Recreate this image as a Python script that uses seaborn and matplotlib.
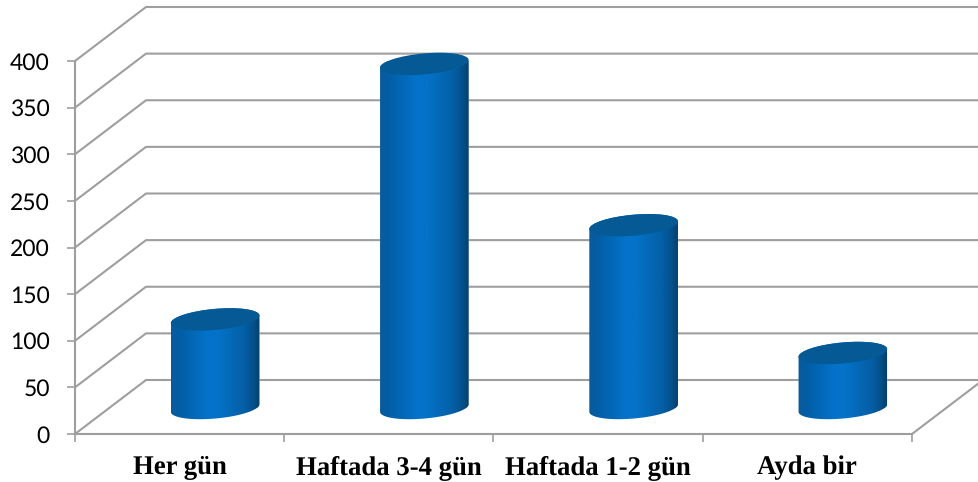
import numpy as np
import seaborn as sns
import matplotlib
matplotlib.use("Agg")
import matplotlib.pyplot as plt
from matplotlib.colors import LinearSegmentedColormap
from matplotlib.patches import Ellipse
from matplotlib.path import Path
from matplotlib.transforms import Affine2D, IdentityTransform

categories = ["Her gün", "Haftada 3-4 gün", "Haftada 1-2 gün", "Ayda bir"]
values = [95, 369, 196, 59]
y_ticks = [0, 50, 100, 150, 200, 250, 300, 350, 400]

GRID = "#9E9E9E"
TOP = "#055A96"
BODY = [(0.0, "#0A5A9A"), (0.12, "#025FA8"), (0.42, "#0573CB"), (0.55, "#0571C6"),
        (0.82, "#045FA6"), (0.93, "#04508A"), (1.0, "#05406C")]
W, H = 979, 482

sns.set_style("white")
plt.rcParams["font.family"] = ["Lato", "DejaVu Sans"]
plt.rcParams["text.hinting"] = "none"

fig = plt.figure(figsize=(W / 100, H / 100), dpi=100)
ax = fig.add_axes([75 / W, 48 / H, 837 / W, 373 / H])
ax.patch.set_alpha(0)

sns.barplot(x=categories, y=values, color=BODY[2][1], width=0.42, saturation=1, ax=ax, zorder=2)
ax.set_xlim(-0.5, 3.5)
ax.set_ylim(0, 400)

# depth of the fake 3d box, in data units
depth_x = 71 / (837 / 4)
depth_y = 54 / (373 / 400)
for v in y_ticks:
    ax.plot([-0.5, -0.5 + depth_x, 3.5 + depth_x], [v, v + depth_y, v + depth_y],
            color=GRID, lw=1.5, clip_on=False, zorder=1)
ax.plot([3.5, 3.5 + depth_x], [0, depth_y], color=GRID, lw=1.5, clip_on=False, zorder=1)

# bars stand in the middle of the floor
shift = Affine2D().translate(35.5, 26)
cmap = LinearSegmentedColormap.from_list("cyl", BODY)
ramp = np.linspace(0, 1, 256).reshape(1, -1)
tilt = np.deg2rad(5.2)
rx, ry = 44.5, 10.5


def ellipse_points(cx, cy, t):
    x = cx + rx * np.cos(t) * np.cos(tilt) - ry * np.sin(t) * np.sin(tilt)
    y = cy + rx * np.cos(t) * np.sin(tilt) + ry * np.sin(t) * np.cos(tilt)
    return np.column_stack([x, y])


for bar in ax.patches:
    x_mid = bar.get_x() + bar.get_width() / 2
    cx, cy_base = shift.transform(ax.transData.transform((x_mid, 0)))
    _, cy_top = shift.transform(ax.transData.transform((x_mid, bar.get_height())))

    hull = np.vstack([
        ellipse_points(cx, cy_base, np.linspace(np.pi, 2 * np.pi, 60)),
        ellipse_points(cx, cy_top, np.linspace(0, np.pi, 60)),
    ])
    outline = Path(np.vstack([hull, hull[:1]]), closed=True)

    bar.set_transform(ax.transData + shift)
    bar.set_clip_path(outline, IdentityTransform())
    bar.set_clip_on(True)

    im = ax.imshow(ramp, cmap=cmap, aspect="auto", origin="lower", zorder=3,
                   extent=[cx - rx, cx + rx, cy_base - 20, cy_top + 20],
                   transform=IdentityTransform())
    im.set_clip_path(outline, IdentityTransform())
    ax.add_patch(Ellipse((cx, cy_top), 2 * rx, 2 * ry, angle=np.rad2deg(tilt), facecolor=TOP,
                         edgecolor="none", transform=IdentityTransform(), zorder=4, clip_on=False))

ax.set_xlim(-0.5, 3.5)
ax.set_ylim(0, 400)

sns.despine(ax=ax)
for side in ["left", "bottom"]:
    ax.spines[side].set_color(GRID)
    ax.spines[side].set_linewidth(1.5)
    ax.spines[side].set_zorder(1)

ax.set_yticks(y_ticks)
ax.tick_params(axis="y", left=True, length=6, width=1.2, color=GRID, labelsize=16.5, labelcolor="black", pad=12)
ax.set_xticks(range(len(categories)), categories, family="Liberation Serif", weight="bold", fontsize=19.3)
ax.set_xticks(np.arange(-0.5, 4), minor=True)
ax.tick_params(axis="x", which="major", bottom=False, pad=12, labelcolor="black")
ax.tick_params(axis="x", which="minor", bottom=True, length=6, width=1.2, color=GRID)
ax.grid(False)

fig.savefig("out.png", dpi=100)
